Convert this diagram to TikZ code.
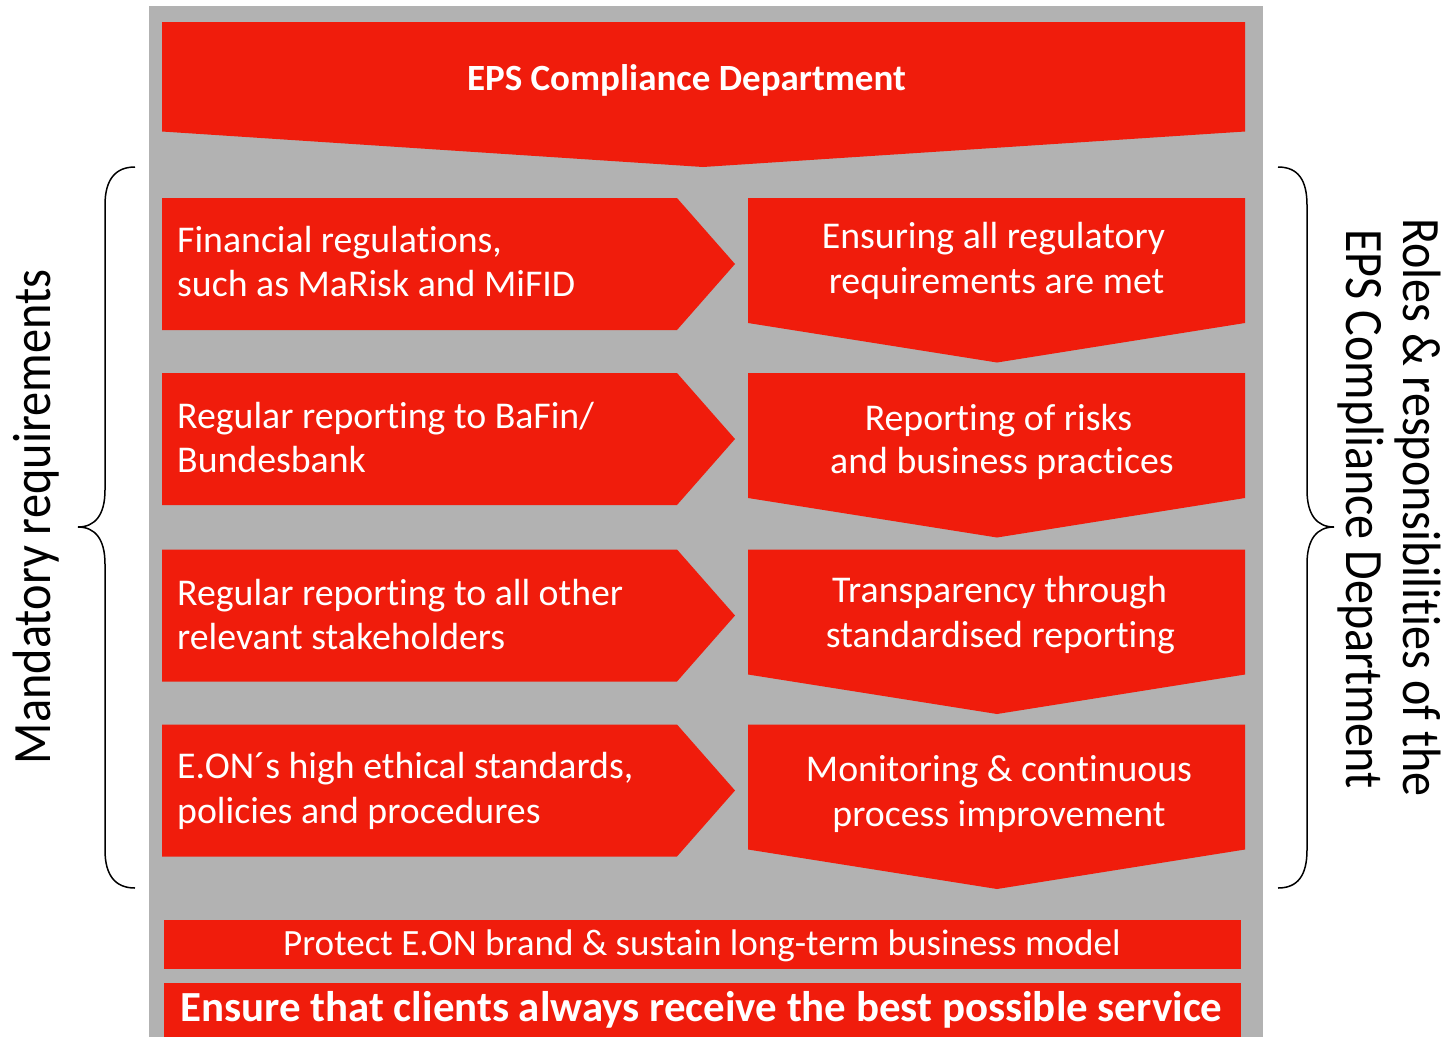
\documentclass[tikz,border=0pt]{standalone}
\usepackage{fontspec}
\usepackage{graphicx}
\setmainfont{Carlito}[Ligatures=NoCommon]
\definecolor{eonred}{RGB}{240,28,12}
\definecolor{panelgray}{RGB}{178,178,178}
\begin{document}
\begin{tikzpicture}[x=1pt,y=-1pt,
  txt/.style={inner sep=0pt, text=white, font=\fontsize{37.8}{44}\selectfont},
  lefttxt/.style={txt, anchor=base west},
  righttxt/.style={txt, anchor=base},
  brace/.style={draw=black, line width=1.5pt},
  sidetxt/.style={inner sep=0pt, anchor=base, text=black, font=\fontsize{54}{56}\selectfont}]
\useasboundingbox (0,0) rectangle (1444,1037);
\fill[panelgray] (149,6) rectangle (1263,1037);
% top banner
\fill[eonred] (162,22) -- (1245,22) -- (1245,131.5) -- (703,167) -- (162,131.5) -- cycle;
\node[txt, anchor=base, font=\bfseries\fontsize{37}{44}\selectfont] (title) at (686.5,90.7) {EPS Compliance Department};
% left chevrons and right down arrows
\foreach \t in {198,373,549.5,724.5}{
  \fill[eonred] (162,\t) -- (677,\t) -- (735,\t+66) -- (677,\t+132) -- (162,\t+132) -- cycle;
  \fill[eonred] (748,\t) -- (1245,\t) -- (1245,\t+125) -- (997,\t+164.5) -- (748,\t+125) -- cycle;
}
% left texts
\node[lefttxt] (l1a) at (177,252.7) {Financial regulations,};
\node[lefttxt] (l1b) at (177,296.7) {such as MaRisk and MiFID};
\node[lefttxt] (l2a) at (177,428.3) {Regular reporting to BaFin/};
\node[lefttxt] (l2b) at (177,472.3) {Bundesbank};
\node[lefttxt] (l3a) at (177,605) {Regular reporting to all other};
\node[lefttxt] (l3b) at (177,649.3) {relevant stakeholders};
\node[lefttxt] (l4a) at (177,778.3) {E.ON´s high ethical standards,};
\node[lefttxt] (l4b) at (177,823.3) {policies and procedures};
% right texts
\node[righttxt] (r1a) at (993.5,248.3) {Ensuring all regulatory};
\node[righttxt] (r1b) at (996.5,293.3) {requirements are met};
\node[righttxt] (r2a) at (998.5,430) {Reporting of risks};
\node[righttxt] (r2b) at (1002,473.3) {and business practices};
\node[righttxt] (r3a) at (999.5,602.7) {Transparency through};
\node[righttxt] (r3b) at (1000.5,647.3) {standardised reporting};
\node[righttxt] (r4a) at (999,781.7) {Monitoring \& continuous};
\node[righttxt] (r4b) at (999,826) {process improvement};
% bottom bars
\fill[eonred] (164,920) rectangle (1240.5,969);
\fill[eonred] (164,983.3) rectangle (1240.5,1037);
\node[txt, anchor=base, font=\fontsize{37.1}{44}\selectfont] (brand) at (702,955.7) {Protect E.ON brand \& sustain long-term business model};
\node[txt, anchor=base, font=\bfseries\fontsize{42.9}{48}\selectfont] (clients) at (701.5,1021.7) {Ensure that clients always receive the best possible service};
% braces
\draw[brace] (135,167) .. controls (115,167) and (105,180) .. (105,205) -- (105,490)
  .. controls (105,515) and (95,527) .. (78,527)
  .. controls (95,527) and (105,539) .. (105,564) -- (105,850)
  .. controls (105,875) and (115,888) .. (135,888);
\draw[brace] (1278,167) .. controls (1298,167) and (1307,180) .. (1307,205) -- (1307,490)
  .. controls (1307,515) and (1317,527) .. (1334,527)
  .. controls (1317,527) and (1307,539) .. (1307,564) -- (1307,850)
  .. controls (1307,875) and (1298,888) .. (1278,888);
% side labels
\node[sidetxt, rotate=90] (mand) at (50,517) {\scalebox{0.895}[1]{Mandatory requirements}};
\node[sidetxt, rotate=-90] (roles1) at (1403,507.5) {\scalebox{0.89}[1]{Roles \& responsibilities of the}};
\node[sidetxt, rotate=-90] (roles2) at (1346.7,509) {\scalebox{0.89}[1]{EPS Compliance Department}};
\end{tikzpicture}
\end{document}
